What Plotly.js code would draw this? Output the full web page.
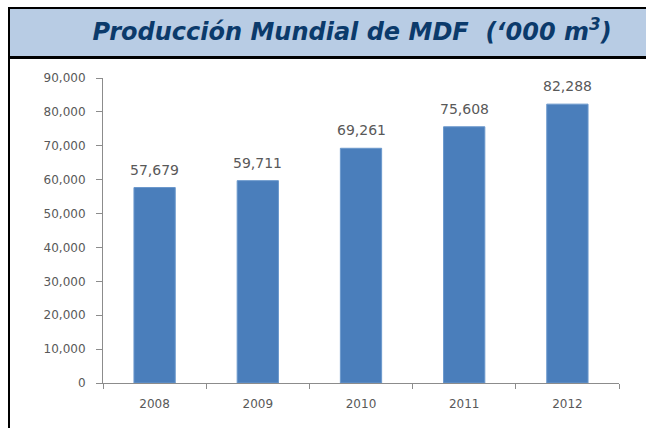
<!DOCTYPE html>
<html>
<head>
<meta charset="utf-8">
<script src="https://cdn.plot.ly/plotly-3.0.1.min.js"></script>
<style>
  html, body { margin: 0; padding: 0; background: #ffffff; }
  #chart { width: 646px; height: 428px; }
</style>
</head>
<body>
<div id="chart"></div>
<script>
// ---- data ----
const years = ["2008", "2009", "2010", "2011", "2012"];
const production = [57679, 59711, 69261, 75608, 82288];
const yTickValues = [0, 10000, 20000, 30000, 40000, 50000, 60000, 70000, 80000, 90000];
const chartTitle = "Producción Mundial de MDF \u00a0(\u2018000 m<sup>3</sup>)";

// ---- layout geometry (pixels) ----
const W = 646, H = 428;
const M = { l: 103, r: 27, t: 78, b: 45 };
const plotW = W - M.l - M.r, plotH = H - M.t - M.b;
const px = x => (x - M.l) / plotW;          // pixel x -> paper x
const py = y => (H - M.b - y) / plotH;      // pixel y -> paper y

const fmt = v => v.toLocaleString("en-US");
const FONT = "DejaVu Sans, Verdana, sans-serif";

const trace = {
  type: "bar",
  x: years,
  y: production,
  marker: { color: "#4A7EBB", line: { color: "#6B98CC", width: 1 } },
  hoverinfo: "x+y"
};

// value labels: x given as category index
const labels = years.map((yr, i) => ({
  x: i, y: production[i], xref: "x", yref: "y",
  text: fmt(production[i]), showarrow: false,
  yanchor: "bottom", yshift: 8,
  font: { family: FONT, size: 14, color: "#595959" }
}));

const layout = {
  width: W, height: H,
  margin: M,
  paper_bgcolor: "#ffffff",
  plot_bgcolor: "#ffffff",
  showlegend: false,
  bargap: 0.6,
  title: {
    text: chartTitle,
    xref: "container", yref: "container",
    x: 352 / W, y: 1 - 32 / H, xanchor: "center", yanchor: "middle",
    font: { family: FONT, size: 24, color: "#0B3A6B", weight: "bold", style: "italic" }
  },
  xaxis: {
    type: "category",
    categoryorder: "array", categoryarray: years,
    range: [-0.5, years.length - 0.5],
    showline: true, linecolor: "#8C8C8C", linewidth: 1,
    ticks: "outside", tickson: "boundaries", ticklen: 5, tickcolor: "#8C8C8C",
    ticklabelstandoff: 10,
    showgrid: false, zeroline: false,
    tickfont: { family: FONT, size: 12, color: "#595959" },
    fixedrange: true
  },
  yaxis: {
    range: [0, 90000],
    tickvals: yTickValues,
    ticktext: yTickValues.map(fmt),
    showline: true, linecolor: "#8C8C8C", linewidth: 1,
    ticks: "outside", ticklen: 6, tickcolor: "#8C8C8C",
    ticklabelstandoff: 8,
    showgrid: false, zeroline: false,
    tickfont: { family: FONT, size: 12, color: "#595959" },
    fixedrange: true
  },
  annotations: labels,
  shapes: [
    // title band
    { type: "rect", xref: "paper", yref: "paper", layer: "below",
      x0: px(9), x1: px(660), y0: py(57), y1: py(8),
      fillcolor: "#B8CCE4", line: { width: 0 } },
    // top border
    { type: "line", xref: "paper", yref: "paper",
      x0: px(8), x1: px(660), y0: py(8), y1: py(8),
      line: { color: "#000000", width: 2 } },
    // line below title band
    { type: "line", xref: "paper", yref: "paper",
      x0: px(8), x1: px(660), y0: py(57.5), y1: py(57.5),
      line: { color: "#000000", width: 3 } },
    // left border
    { type: "line", xref: "paper", yref: "paper",
      x0: px(9), x1: px(9), y0: py(7), y1: py(440),
      line: { color: "#000000", width: 2 } }
  ]
};

Plotly.newPlot("chart", [trace], layout, { displayModeBar: false, staticPlot: true });
</script>
</body>
</html>
